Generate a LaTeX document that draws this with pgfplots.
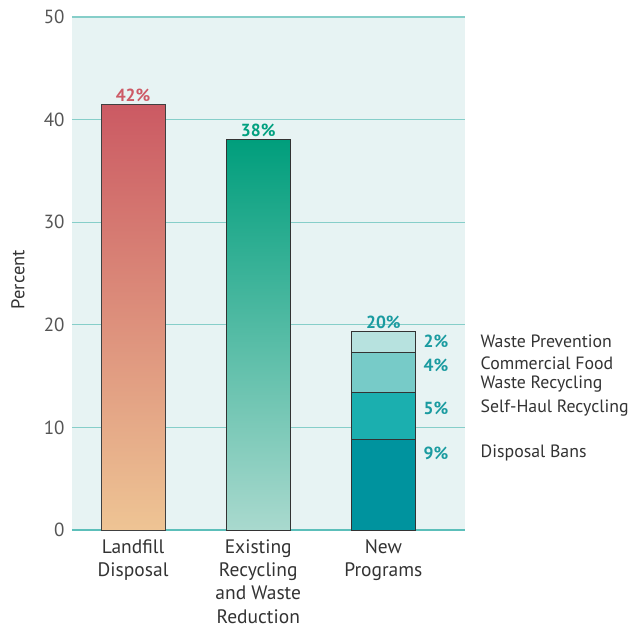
\documentclass[border=0pt]{standalone}
\usepackage{pgfplots}
\pgfplotsset{compat=1.18}
\usepackage{fontspec}
\setmainfont{PT Sans}
\definecolor{bgc}{HTML}{E7F3F3}
\definecolor{gridc}{HTML}{86CEC9}
\definecolor{axc}{HTML}{5CBFBA}
\definecolor{redtop}{HTML}{CB5A63}
\definecolor{redbot}{HTML}{EEC494}
\definecolor{grntop}{HTML}{009E7C}
\definecolor{grnbot}{HTML}{A9D9CE}
\definecolor{segA}{HTML}{00939E}
\definecolor{segB}{HTML}{1BAFAF}
\definecolor{segC}{HTML}{77CBC8}
\definecolor{segD}{HTML}{B7E2DF}
\definecolor{lblred}{HTML}{CD5A66}
\definecolor{lblgrn}{HTML}{00A07F}
\definecolor{lbltl}{HTML}{1A9BA0}
\definecolor{txt}{HTML}{333333}
\definecolor{tick}{HTML}{555555}
\begin{document}
\begin{tikzpicture}
\useasboundingbox (-72bp,-98bp) rectangle (556bp,530bp);
\begin{axis}[
  at={(0,0)}, anchor=south west,
  scale only axis, width=393bp, height=513bp,
  xmin=-0.488, xmax=2.652, ymin=0, ymax=50,
  ytick={0,10,20,30,40,50},
  xtick={0,1,2},
  xticklabels={{Landfill\\Disposal},{Existing\\Recycling\\and Waste\\Reduction},{New\\Programs}},
  xticklabel style={align=center, font=\fontsize{19.5bp}{23.3bp}\selectfont, text=txt, yshift=-6bp},
  yticklabel style={font=\fontsize{19bp}{22bp}\selectfont, text=tick, xshift=-4bp},
  /pgf/number format/assume math mode=true,
  ylabel={Percent},
  every axis y label/.style={at={(axis description cs:-0.1374,0.488)}, rotate=90, anchor=center, font=\fontsize{18.5bp}{22bp}\selectfont, text=txt},
  axis line style={draw=none},
  major tick length=0pt,
  tick style={draw=none},
  ymajorgrids, grid style={gridc, line width=1.1bp},
  axis background/.style={fill=bgc},
  clip=false,
  ybar, bar width=0.512, bar shift=0pt,
  nodes near coords style={font=\fontsize{17.5bp}{19bp}\selectfont\bfseries, anchor=south, inner sep=2bp},
]
\draw[axc, line width=1.2bp] (axis cs:-0.488,0) -- (axis cs:2.652,0);
\addplot[draw=black!75, line width=0.8bp, top color=redtop, bottom color=redbot,
  nodes near coords={\textcolor{lblred}{42\%}}] coordinates {(0,41.5)};
\addplot[draw=black!80, line width=0.8bp, top color=grntop, bottom color=grnbot,
  nodes near coords={\textcolor{lblgrn}{38\%}}] coordinates {(1,38.1)};
% New Programs stacked: segments 8.8 + 4.65 + 3.9 + 2.05 (drawn as cumulative totals)
\addplot[draw=black!80, line width=0.8bp, fill=segD,
  nodes near coords={\textcolor{lbltl}{20\%}}] coordinates {(2,19.4)};
\addplot[draw=black!80, line width=0.8bp, fill=segC] coordinates {(2,17.35)};
\addplot[draw=black!80, line width=0.8bp, fill=segB] coordinates {(2,13.45)};
\addplot[draw=black!80, line width=0.8bp, fill=segA] coordinates {(2,8.8)};
\begin{scope}[every node/.style={anchor=west, inner sep=0pt}]
\node[text=lbltl, font=\fontsize{17.5bp}{19bp}\selectfont\bfseries] at (axis cs:2.32,18.42) {2\%};
\node[text=lbltl, font=\fontsize{17.5bp}{19bp}\selectfont\bfseries] at (axis cs:2.32,16.08) {4\%};
\node[text=lbltl, font=\fontsize{17.5bp}{19bp}\selectfont\bfseries] at (axis cs:2.32,11.89) {5\%};
\node[text=lbltl, font=\fontsize{17.5bp}{19bp}\selectfont\bfseries] at (axis cs:2.32,7.5) {9\%};
\node[text=txt, font=\fontsize{17.8bp}{19.5bp}\selectfont] at (axis cs:2.776,18.42) {Waste Prevention};
\node[text=txt, font=\fontsize{17.8bp}{19.5bp}\selectfont, align=left] at (axis cs:2.776,15.15) {Commercial Food\\Waste Recycling};
\node[text=txt, font=\fontsize{17.8bp}{19.5bp}\selectfont] at (axis cs:2.776,11.89) {Self-Haul Recycling};
\node[text=txt, font=\fontsize{17.8bp}{19.5bp}\selectfont] at (axis cs:2.776,7.5) {Disposal Bans};
\end{scope}
\end{axis}
\end{tikzpicture}
\end{document}
